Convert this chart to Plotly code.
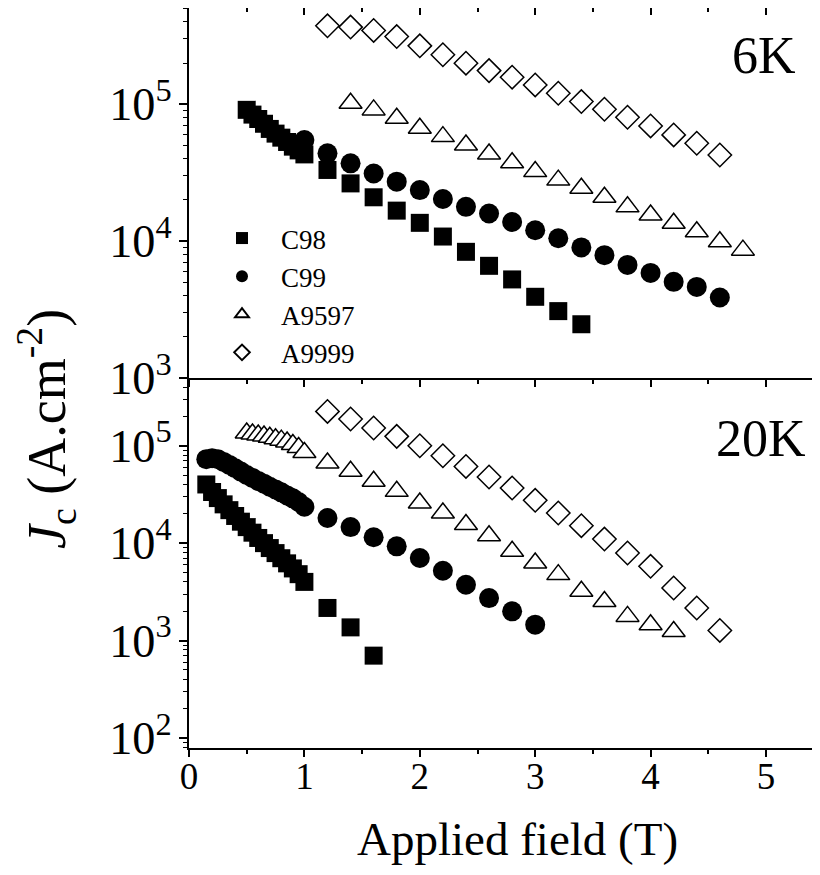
import plotly.graph_objects as go

FONT = "Liberation Serif, Times New Roman, Times, serif"

# ---------------- 6 K data ----------------
c98_6k_B = [0.50, 0.55, 0.60, 0.65, 0.70, 0.75, 0.80, 0.85, 0.90, 0.95, 1.00,
            1.2, 1.4, 1.6, 1.8, 2.0, 2.2, 2.4, 2.6, 2.8, 3.0, 3.2, 3.4]
c98_6k_J = [91000, 84000, 78000, 72000, 66000, 61000, 57000, 53000, 49000, 46000, 43000,
            33100, 26400, 20900, 16700, 13600, 10800, 8350, 6600, 5250, 3920, 3080, 2470]

c99_6k_B = [1.0, 1.2, 1.4, 1.6, 1.8, 2.0, 2.2, 2.4, 2.6, 2.8, 3.0, 3.2, 3.4, 3.6, 3.8,
            4.0, 4.2, 4.4, 4.6]
c99_6k_J = [54800, 43800, 37000, 31200, 27200, 23600, 20300, 17800, 15900, 13800, 12000,
            10500, 9000, 7900, 6700, 5860, 5040, 4630, 3870]

a9597_6k_B = [1.4, 1.6, 1.8, 2.0, 2.2, 2.4, 2.6, 2.8, 3.0, 3.2, 3.4, 3.6, 3.8, 4.0, 4.2,
              4.4, 4.6, 4.8]
a9597_6k_J = [101700, 90900, 79000, 66700, 58000, 50400, 43300, 37400, 32200, 27900, 24300,
              20900, 17800, 15500, 13500, 11700, 9890, 8590]

a9999_6k_B = [1.2, 1.4, 1.6, 1.8, 2.0, 2.2, 2.4, 2.6, 2.8, 3.0, 3.2, 3.4, 3.6, 3.8, 4.0,
              4.2, 4.4, 4.6]
a9999_6k_J = [374000, 366000, 346000, 312000, 267000, 230000, 199500, 176000, 157600, 138400,
              120300, 104600, 91900, 80300, 69400, 59700, 51900, 42600]

# ---------------- 20 K data ----------------
c98_20k_B = [0.15, 0.20, 0.25, 0.30, 0.35, 0.40, 0.45, 0.50, 0.55, 0.60, 0.65, 0.70, 0.75,
             0.80, 0.85, 0.90, 0.95, 1.00, 1.2, 1.4, 1.6]
c98_20k_J = [40000, 33500, 29000, 25000, 21800, 19000, 16600, 14600, 12800, 11300, 10000,
             8900, 7900, 7000, 6200, 5500, 4800, 4000, 2160, 1365, 700]

c99_20k_B = [0.15, 0.20, 0.25, 0.30, 0.35, 0.40, 0.45, 0.50, 0.55, 0.60, 0.65, 0.70, 0.75,
             0.80, 0.85, 0.90, 0.95, 1.00, 1.2, 1.4, 1.6, 1.8, 2.0, 2.2, 2.4, 2.6, 2.8, 3.0]
c99_20k_J = [72800, 74500, 72800, 68200, 63500, 58700, 54200, 50100, 46700, 43500, 40800,
             37900, 35600, 33200, 30900, 28800, 26400, 23600, 18100, 14600, 11500, 9270,
             7030, 5210, 3740, 2730, 1995, 1455]

a9597_20k_B = [0.50, 0.55, 0.60, 0.65, 0.70, 0.75, 0.80, 0.85, 0.90, 0.95, 1.00,
               1.2, 1.4, 1.6, 1.8, 2.0, 2.2, 2.4, 2.6, 2.8, 3.0, 3.2, 3.4, 3.6, 3.8, 4.0, 4.2]
a9597_20k_J = [135000, 132000, 129000, 126000, 122000, 118000, 114000, 109000, 103000, 96000,
               85000, 66400, 54600, 43100, 34000, 25800, 20400, 15500, 11900, 8240, 6250,
               4750, 3200, 2520, 1770, 1455, 1240]

a9999_20k_B = [1.2, 1.4, 1.6, 1.8, 2.0, 2.2, 2.4, 2.6, 2.8, 3.0, 3.2, 3.4, 3.6, 3.8, 4.0,
               4.2, 4.4, 4.6]
a9999_20k_J = [225000, 188000, 152000, 124700, 100000, 78900, 61300, 47700, 36800, 27500,
               20400, 15100, 11000, 7920, 5780, 3460, 2160, 1270]

series_names = ["C98", "C99", "A9597", "A9999"]
panel_labels = ["6K", "20K"]
x_title = "Applied field (T)"
y_title = "<i>J</i><sub>c</sub> (A.cm<sup>-2</sup>)"

# ---------------- styling ----------------
# the page body adds an 8px offset, so the figure is laid out 8px up/left
OFF = 8
W, H = 812, 859
ML, MR, MT, MB = 181, 0, 0, 119
styles = {
    "C98": dict(symbol="square", size=18, color="black", line=dict(color="black", width=0)),
    "C99": dict(symbol="circle", size=20, color="black", line=dict(color="black", width=0)),
    "A9597": dict(symbol="triangle-up", size=20, color="white", line=dict(color="black", width=1.5)),
    "A9999": dict(symbol="diamond", size=18, color="white", line=dict(color="black", width=1.5)),
}

fig = go.Figure()

panel6 = {"C98": (c98_6k_B, c98_6k_J), "C99": (c99_6k_B, c99_6k_J),
          "A9597": (a9597_6k_B, a9597_6k_J), "A9999": (a9999_6k_B, a9999_6k_J)}
panel20 = {"C98": (c98_20k_B, c98_20k_J), "C99": (c99_20k_B, c99_20k_J),
           "A9597": (a9597_20k_B, a9597_20k_J), "A9999": (a9999_20k_B, a9999_20k_J)}

for name in series_names:
    bx, jy = panel6[name]
    fig.add_trace(go.Scatter(x=bx, y=jy, mode="markers", name=name, marker=styles[name],
                             xaxis="x", yaxis="y", showlegend=True, cliponaxis=False))
for name in series_names:
    bx, jy = panel20[name]
    fig.add_trace(go.Scatter(x=bx, y=jy, mode="markers", name=name, marker=styles[name],
                             xaxis="x2", yaxis="y2", showlegend=False, cliponaxis=False))

# empty traces so the mirror (inside-tick) axes are drawn
fig.add_trace(go.Scatter(x=[], y=[], xaxis="x3", yaxis="y", showlegend=False))
fig.add_trace(go.Scatter(x=[], y=[], xaxis="x", yaxis="y3", showlegend=False))
fig.add_trace(go.Scatter(x=[], y=[], xaxis="x2", yaxis="y4", showlegend=False))

XR = [0, 5.468]
YR_TOP = [3, 5.703]
YR_BOT = [1.897, 5.695]

tickfont = dict(family=FONT, size=37, color="black")

xbase = dict(range=XR, showgrid=False, zeroline=False, showline=True, linecolor="black",
             linewidth=2, dtick=1, tick0=0, tickwidth=1.5, tickcolor="black",
             tickfont=tickfont, automargin=False)
xminor_out = dict(ticks="outside", ticklen=4, tickwidth=1.5, tickcolor="black", dtick=0.5, showgrid=False)
xminor_in = dict(ticks="inside", ticklen=4, tickwidth=1.5, tickcolor="black", dtick=0.5, showgrid=False)

ybase = dict(type="log", showgrid=False, zeroline=False, showline=True, linecolor="black",
             linewidth=2, dtick=1, tickwidth=1.5, tickcolor="black", exponentformat="power",
             tickfont=tickfont, automargin=False)
yminor_out = dict(ticks="outside", ticklen=4, tickwidth=1.2, tickcolor="black", dtick="D1", showgrid=False)
yminor_in = dict(ticks="inside", ticklen=4, tickwidth=1.2, tickcolor="black", dtick="D1", showgrid=False)

PW = W - ML - MR
PH = H - MT - MB


def px(xw):
    # window pixel -> paper fraction
    return (xw - OFF - ML) / PW


def py(yw):
    return (H - MB - (yw - OFF)) / PH


fig.update_layout(
    width=W, height=H,
    margin=dict(l=ML, r=MR, t=MT, b=MB, autoexpand=False),
    paper_bgcolor="white", plot_bgcolor="white",
    font=dict(family=FONT, color="black"),
    xaxis=dict(xbase, domain=[0, 1], anchor="y", ticks="outside", ticklen=7,
               showticklabels=False, minor=xminor_out),
    xaxis2=dict(xbase, domain=[0, 1], anchor="y2", ticks="outside", ticklen=7,
                showticklabels=True, ticklabelstandoff=-12, minor=xminor_out),
    xaxis3=dict(xbase, anchor="y", overlaying="x", side="top", ticks="inside", ticklen=7,
                showticklabels=False, minor=xminor_in),
    yaxis=dict(ybase, domain=[0.5, 1], anchor="x", range=YR_TOP, ticks="outside",
               ticklen=8, minor=yminor_out),
    yaxis2=dict(ybase, domain=[0, 0.5], anchor="x2", range=YR_BOT, ticks="outside",
                ticklen=8, minor=yminor_out),
    yaxis3=dict(ybase, anchor="x", overlaying="y", side="right", range=YR_TOP, showline=False,
                ticks="inside", ticklen=8, showticklabels=False, minor=yminor_in),
    yaxis4=dict(ybase, anchor="x2", overlaying="y2", side="right", range=YR_BOT, showline=False,
                ticks="inside", ticklen=8, showticklabels=False, minor=yminor_in),
    legend=dict(x=px(203), y=py(214), xanchor="left", yanchor="top",
                bgcolor="rgba(0,0,0,0)", font=dict(family=FONT, size=27, color="black"),
                itemsizing="constant", itemwidth=68, tracegroupgap=0),
    showlegend=True,
)

annotations = [
    dict(text=panel_labels[0], x=px(798), y=py(55), xanchor="right", yanchor="middle",
         font=dict(family=FONT, size=52, color="black")),
    dict(text=panel_labels[1], x=px(808), y=py(438), xanchor="right", yanchor="middle",
         font=dict(family=FONT, size=52, color="black")),
    dict(text=x_title, x=px(517), y=py(839), xanchor="center", yanchor="middle",
         font=dict(family=FONT, size=47, color="black")),
    dict(text=y_title, x=px(46), y=py(429), xanchor="center", yanchor="middle",
         textangle=-90, font=dict(family=FONT, size=54, color="black")),
]
for a in annotations:
    a.update(xref="paper", yref="paper", showarrow=False)
fig.update_layout(annotations=annotations)

fig.write_html("out.html")
